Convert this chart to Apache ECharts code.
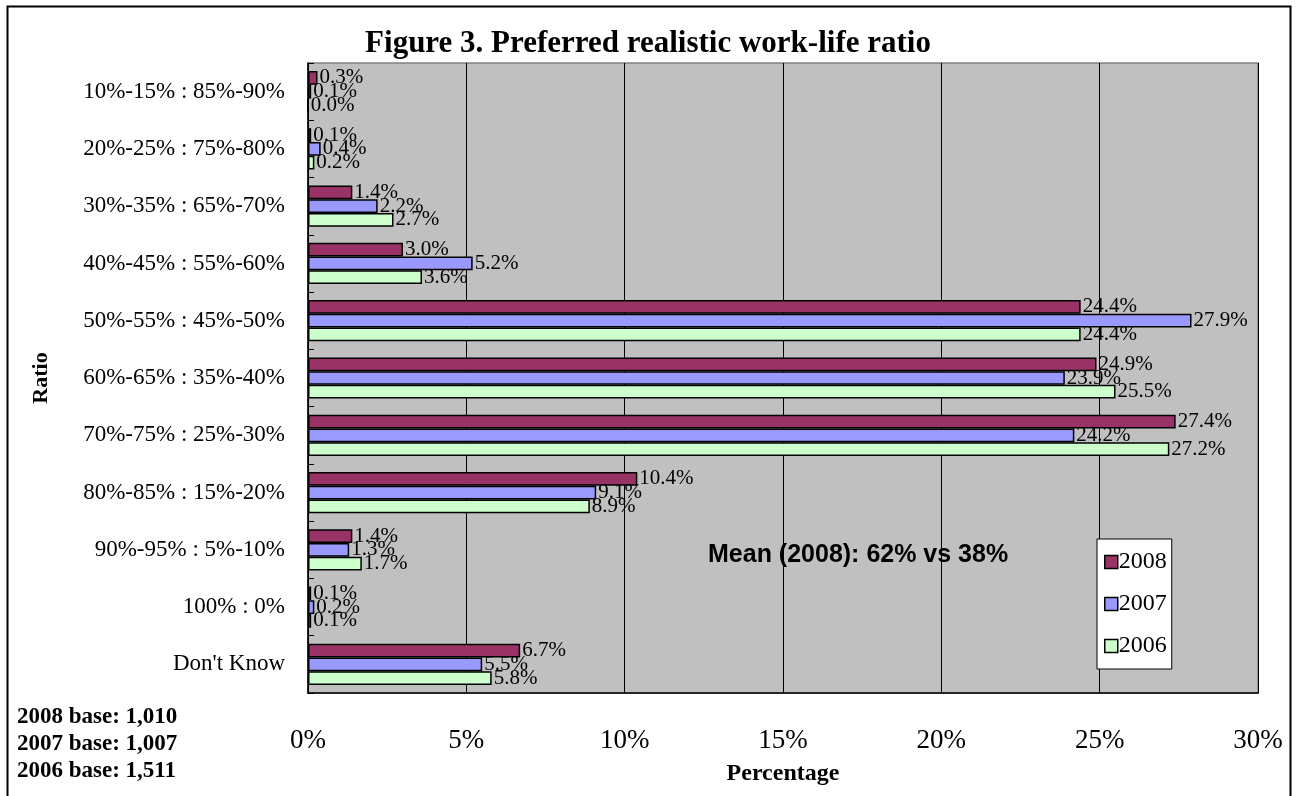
<!DOCTYPE html>
<html>
<head>
<meta charset="utf-8">
<script src="https://cdn.jsdelivr.net/npm/echarts@6/dist/echarts.min.js"></script>
<style>
html,body{margin:0;padding:0;background:#fff;}
#chart{width:1296px;height:796px;}
</style>
</head>
<body>
<div id="chart"></div>
<script>
const categories = [
  "10%-15% : 85%-90%",
  "20%-25% : 75%-80%",
  "30%-35% : 65%-70%",
  "40%-45% : 55%-60%",
  "50%-55% : 45%-50%",
  "60%-65% : 35%-40%",
  "70%-75% : 25%-30%",
  "80%-85% : 15%-20%",
  "90%-95% : 5%-10%",
  "100% : 0%",
  "Don't Know"
];
const values2008 = [0.3, 0.1, 1.4, 3.0, 24.4, 24.9, 27.4, 10.4, 1.4, 0.1, 6.7];
const values2007 = [0.1, 0.4, 2.2, 5.2, 27.9, 23.9, 24.2, 9.1, 1.3, 0.2, 5.5];
const values2006 = [0.0, 0.2, 2.7, 3.6, 24.4, 25.5, 27.2, 8.9, 1.7, 0.1, 5.8];
const seriesNames = ["2008", "2007", "2006"];
const xTicks = [0, 5, 10, 15, 20, 25, 30];
const titleText = "Figure 3. Preferred realistic work-life ratio";
const meanText = "Mean (2008): 62% vs 38%";
const baseTexts = ["2008 base: 1,010", "2007 base: 1,007", "2006 base: 1,511"];

const colors = ["#993366", "#9999FF", "#CCFFCC"];
const serif = "'Liberation Serif', 'Times New Roman', serif";

const chart = echarts.init(document.getElementById('chart'));
const allValues = [values2008, values2007, values2006];

const series = seriesNames.map((n, i) => ({
  name: n,
  type: 'bar',
  data: allValues[i],
  barGap: '0%',
  barCategoryGap: '28%',
  itemStyle: { color: colors[i], borderColor: '#000', borderWidth: 1.5 },
  label: {
    show: true,
    position: 'right',
    distance: 2,
    formatter: p => p.value.toFixed(1) + '%',
    fontFamily: serif,
    fontSize: 21,
    color: '#000'
  }
}));

chart.setOption({
  backgroundColor: '#fff',
  animation: false,
  title: {
    text: titleText,
    left: 'center',
    top: 23,
    textStyle: { fontFamily: serif, fontSize: 31, fontWeight: 'bold', color: '#000' }
  },
  legend: {
    data: seriesNames,
    orient: 'vertical',
    left: 1097,
    top: 539,
    padding: [11, 5, 11, 7],
    itemWidth: 13,
    itemHeight: 13,
    itemGap: 18,
    backgroundColor: '#fff',
    borderColor: '#000',
    borderWidth: 1,
    icon: 'rect',
    itemStyle: { borderColor: '#000', borderWidth: 1.5 },
    textStyle: { fontFamily: serif, fontSize: 24, color: '#000', padding: [0, 0, 0, -4] }
  },
  grid: {
    left: 308,
    top: 63,
    right: 1296 - 1258,
    bottom: 796 - 693,
    show: true,
    backgroundColor: '#C0C0C0',
    borderColor: '#808080',
    borderWidth: 1.5
  },
  xAxis: {
    type: 'value',
    min: 0,
    max: 30,
    interval: 5,
    name: 'Percentage',
    nameLocation: 'middle',
    nameGap: 69,
    nameTextStyle: { fontFamily: serif, fontSize: 24, fontWeight: 'bold', color: '#000' },
    axisLine: { show: true, lineStyle: { color: '#000', width: 1.5 } },
    axisTick: { show: false },
    splitLine: { show: true, lineStyle: { color: '#000', width: 1 } },
    axisLabel: {
      margin: 34,
      fontFamily: serif,
      fontSize: 27,
      color: '#000',
      formatter: v => xTicks.includes(v) ? v + '%' : ''
    }
  },
  yAxis: {
    type: 'category',
    data: categories,
    inverse: true,
    name: 'Ratio',
    nameLocation: 'middle',
    nameGap: 256,
    nameRotate: 90,
    nameTextStyle: { fontFamily: serif, fontSize: 22, fontWeight: 'bold', color: '#000' },
    axisLine: { show: true, lineStyle: { color: '#000', width: 1.5 } },
    axisTick: { show: true, inside: true, length: 6, lineStyle: { color: '#000' } },
    axisLabel: { margin: 23, fontFamily: serif, fontSize: 23, color: '#000' }
  },
  series: series,
  graphic: [
    {
      type: 'rect',
      left: 5, top: 4,
      shape: { width: 1283, height: 800 },
      style: { fill: 'none', stroke: '#000', lineWidth: 2 },
      silent: true
    },
    {
      type: 'text',
      left: 708, top: 543,
      style: { text: meanText, font: "bold 25px 'Liberation Sans', Arial, sans-serif", fill: '#000' }
    },
    {
      type: 'text',
      left: 17, top: 704,
      style: { text: baseTexts.join('\n'), font: "bold 23px 'Liberation Serif', 'Times New Roman', serif", lineHeight: 27, fill: '#000' }
    }
  ]
});
</script>
</body>
</html>
